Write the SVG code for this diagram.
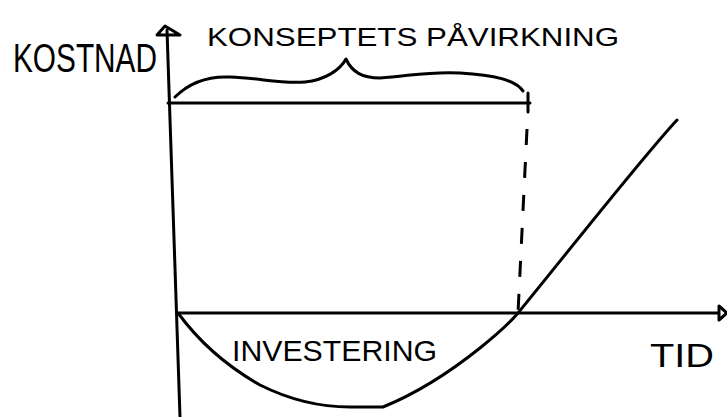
<svg xmlns="http://www.w3.org/2000/svg" width="727" height="417" viewBox="0 0 727 417">
<style>
.ln{fill:none;stroke:#000;stroke-width:3;stroke-linecap:round;stroke-linejoin:round}
.dash{stroke-dasharray:16 17;stroke-linecap:butt}
.tx{font-family:"Liberation Sans",Arial,sans-serif;fill:#000}
</style>
<rect width="727" height="417" fill="#fff"/>
<g id="axes">
<line class="ln" x1="167" y1="30" x2="180" y2="417"/>
<polygon class="ln" points="165,26 157,35 180,35"/>
<line class="ln" x1="177" y1="313" x2="718" y2="313"/>
<polygon class="ln" points="719,306 727,313 719,320"/>
</g>
<g id="span">
<line class="ln" x1="168" y1="103" x2="530" y2="103"/>
<line class="ln" x1="528" y1="93" x2="528" y2="112"/>
<path class="ln" d="M175,97 C190,82 210,76 230,77 C260,78 280,84 305,82 C325,80 340,70 346,59 C352,72 362,78 380,78 C410,76 430,71 460,73 C495,75 515,80 523,91"/>
<line class="ln dash" x1="527" y1="129" x2="518" y2="313"/>
</g>
<g id="curve">
<path class="ln" d="M178,313 C200,343 230,368 260,385 C290,400 320,407 350,407 L383,407 C420,392 450,372 480,348 C495,336 508,325 518,313 C560,262 640,160 677,120"/>
</g>
<g id="labels">
<text class="tx" x="13" y="72" font-size="40" textLength="144" lengthAdjust="spacingAndGlyphs">KOSTNAD</text>
<text class="tx" x="207" y="46" font-size="26" textLength="412" lengthAdjust="spacingAndGlyphs">KONSEPTETS PÅVIRKNING</text>
<text class="tx" x="232" y="361" font-size="30" textLength="205" lengthAdjust="spacingAndGlyphs">INVESTERING</text>
<text class="tx" x="650" y="367" font-size="33" textLength="64" lengthAdjust="spacingAndGlyphs">TID</text>
</g>
</svg>
